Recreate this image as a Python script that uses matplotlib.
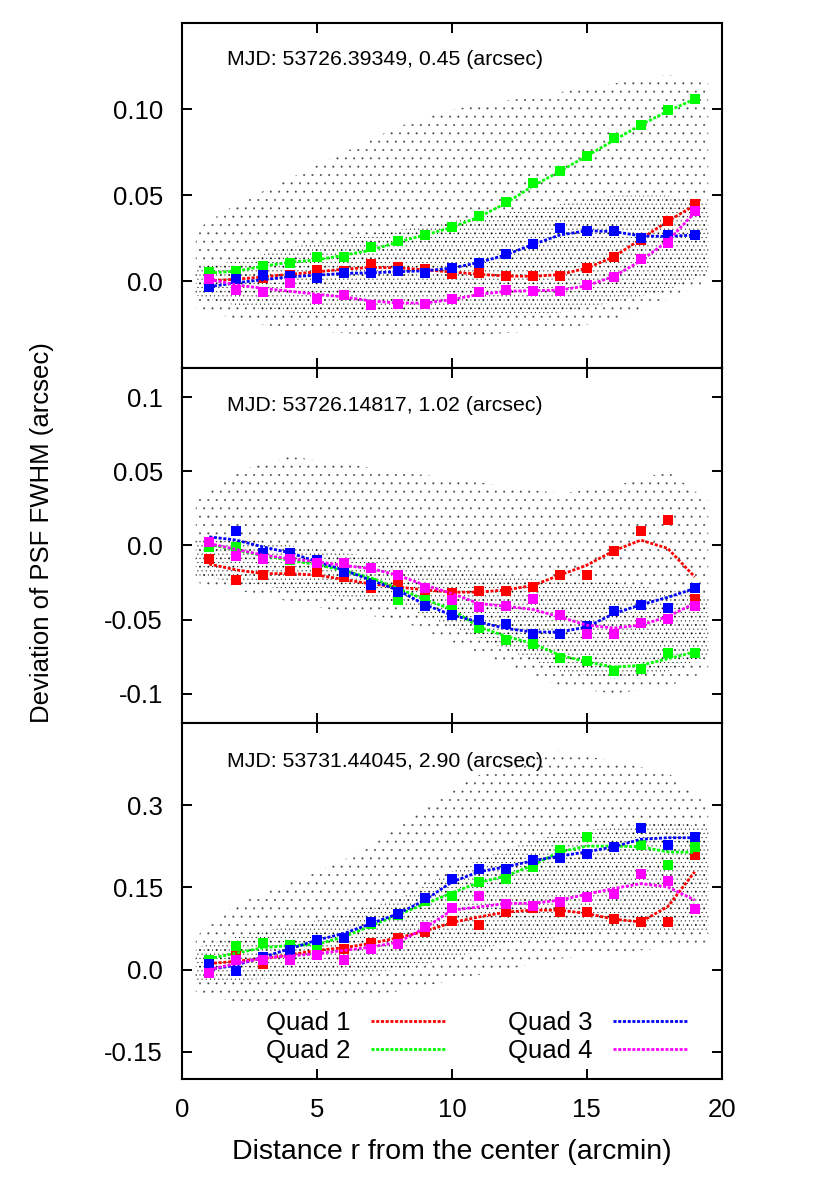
import numpy as np
import matplotlib
matplotlib.use("Agg")
import matplotlib.pyplot as plt

# fonts and a few global styles
plt.rcParams["font.family"] = ["Liberation Sans", "DejaVu Sans"]
plt.rcParams["hatch.linewidth"] = 0.2

# distance from the center (arcmin), one bin per arcmin
r = [1, 2, 3, 4, 5, 6, 7, 8, 9, 10, 11, 12, 13, 14, 15, 16, 17, 18, 19]

quad_names = ["Quad 1", "Quad 2", "Quad 3", "Quad 4"]
quad_colors = ["#ff0000", "#00ff00", "#0000ff", "#ff00ff"]

# ---- panel 1 : MJD 53726.39349 ----
p1_q1 = [0.0010, 0.0023, 0.0023, 0.0038, 0.0068, 0.0060, 0.0104, 0.0085, 0.0070, 0.0046,
         0.0049, 0.0031, 0.0031, 0.0031, 0.0081, 0.0140, 0.0240, 0.0351, 0.0448]
p1_q2 = [0.0056, 0.0062, 0.0091, 0.0110, 0.0143, 0.0140, 0.0199, 0.0236, 0.0269, 0.0318,
         0.0378, 0.0461, 0.0572, 0.0640, 0.0729, 0.0831, 0.0909, 0.0996, 0.1060]
p1_q3 = [-0.0031, 0.0015, 0.0037, 0.0030, 0.0021, 0.0052, 0.0050, 0.0062, 0.0052, 0.0081,
         0.0110, 0.0159, 0.0219, 0.0312, 0.0294, 0.0294, 0.0250, 0.0273, 0.0269]
p1_q4 = [0.0017, -0.0051, -0.0060, -0.0008, -0.0099, -0.0080, -0.0138, -0.0132, -0.0132, -0.0103,
         -0.0062, -0.0051, -0.0053, -0.0053, -0.0022, 0.0027, 0.0130, 0.0221, 0.0409]
# fitted curves read at each bin
p1_f1 = [0.0004, 0.0013, 0.0027, 0.0042, 0.0056, 0.0072, 0.0082, 0.0080, 0.0068, 0.0055,
         0.0042, 0.0032, 0.0030, 0.0040, 0.0078, 0.0143, 0.0246, 0.0350, 0.0443]
p1_f2 = [0.0050, 0.0060, 0.0089, 0.0112, 0.0126, 0.0153, 0.0182, 0.0230, 0.0270, 0.0315,
         0.0375, 0.0455, 0.0555, 0.0640, 0.0730, 0.0820, 0.0910, 0.0990, 0.1060]
p1_f3 = [-0.0030, -0.0008, 0.0011, 0.0027, 0.0037, 0.0047, 0.0050, 0.0057, 0.0062, 0.0078,
         0.0110, 0.0155, 0.0215, 0.0270, 0.0295, 0.0290, 0.0265, 0.0262, 0.0270]
p1_f4 = [0.0013, -0.0020, -0.0040, -0.0057, -0.0074, -0.0090, -0.0113, -0.0125, -0.0125, -0.0105,
         -0.0075, -0.0057, -0.0053, -0.0050, -0.0025, 0.0030, 0.0120, 0.0235, 0.0400]

# ---- panel 2 : MJD 53726.14817 ----
p2_q1 = [-0.0093, -0.0230, -0.0201, -0.0171, -0.0176, -0.0210, -0.0286, -0.0260, -0.0300, -0.0318,
         -0.0309, -0.0307, -0.0282, -0.0201, -0.0201, -0.0039, 0.0099, 0.0169, -0.0363]
p2_q2 = [-0.0009, -0.0011, -0.0088, -0.0099, -0.0110, -0.0180, -0.0250, -0.0365, -0.0370, -0.0426,
         -0.0554, -0.0640, -0.0665, -0.0760, -0.0782, -0.0847, -0.0833, -0.0726, -0.0724]
p2_q3 = [0.0025, 0.0099, -0.0054, -0.0054, -0.0099, -0.0182, -0.0264, -0.0313, -0.0410, -0.0471,
         -0.0500, -0.0532, -0.0599, -0.0599, -0.0545, -0.0442, -0.0399, -0.0419, -0.0290]
p2_q4 = [0.0025, -0.0072, -0.0090, -0.0090, -0.0117, -0.0120, -0.0149, -0.0201, -0.0290, -0.0365,
         -0.0415, -0.0410, -0.0360, -0.0471, -0.0599, -0.0599, -0.0523, -0.0493, -0.0410]
p2_f1 = [-0.0126, -0.0165, -0.0190, -0.0190, -0.0200, -0.0230, -0.0260, -0.0280, -0.0300, -0.0315,
         -0.0315, -0.0300, -0.0270, -0.0200, -0.0133, -0.0036, 0.0036, -0.0020, -0.0212]
p2_f2 = [0.0006, -0.0030, -0.0070, -0.0100, -0.0130, -0.0170, -0.0220, -0.0290, -0.0365, -0.0432,
         -0.0550, -0.0613, -0.0662, -0.0740, -0.0786, -0.0820, -0.0809, -0.0764, -0.0719]
p2_f3 = [0.0058, 0.0036, -0.0010, -0.0050, -0.0110, -0.0167, -0.0234, -0.0302, -0.0400, -0.0470,
         -0.0516, -0.0560, -0.0584, -0.0584, -0.0550, -0.0460, -0.0400, -0.0350, -0.0290]
p2_f4 = [0.0013, -0.0027, -0.0065, -0.0090, -0.0110, -0.0135, -0.0156, -0.0201, -0.0268, -0.0324,
         -0.0392, -0.0410, -0.0432, -0.0482, -0.0538, -0.0557, -0.0538, -0.0480, -0.0390]

# ---- panel 3 : MJD 53731.44045 ----
p3_q1 = [0.010, 0.025, 0.011, 0.030, 0.038, 0.037, 0.049, 0.058, 0.069, 0.088,
         0.081, 0.105, 0.113, 0.105, 0.105, 0.092, 0.086, 0.087, 0.209]
p3_q2 = [0.017, 0.043, 0.048, 0.044, 0.041, 0.057, 0.083, 0.100, 0.126, 0.134,
         0.160, 0.165, 0.188, 0.218, 0.242, 0.224, 0.227, 0.191, 0.223]
p3_q3 = [0.011, -0.003, 0.023, 0.035, 0.054, 0.058, 0.086, 0.102, 0.131, 0.165,
         0.183, 0.183, 0.200, 0.203, 0.212, 0.223, 0.259, 0.227, 0.243]
p3_q4 = [-0.006, 0.017, 0.018, 0.018, 0.027, 0.018, 0.037, 0.046, 0.078, 0.112,
         0.135, 0.119, 0.116, 0.124, 0.132, 0.138, 0.175, 0.162, 0.110]
p3_f1 = [0.011, 0.015, 0.020, 0.027, 0.035, 0.040, 0.048, 0.058, 0.070, 0.086,
         0.096, 0.105, 0.1085, 0.1085, 0.1024, 0.092, 0.087, 0.115, 0.1786]
p3_f2 = [0.020, 0.030, 0.040, 0.044, 0.046, 0.060, 0.080, 0.100, 0.120, 0.140,
         0.159, 0.1707, 0.1908, 0.215, 0.2255, 0.2255, 0.2243, 0.215, 0.214]
p3_f3 = [0.000, 0.008, 0.023, 0.038, 0.054, 0.066, 0.084, 0.102, 0.127, 0.160,
         0.1786, 0.1877, 0.1987, 0.2073, 0.215, 0.2243, 0.238, 0.2408, 0.2408]
p3_f4 = [0.000, 0.011, 0.021, 0.025, 0.029, 0.035, 0.041, 0.050, 0.076, 0.1085,
         0.1145, 0.1207, 0.121, 0.1268, 0.1377, 0.148, 0.157, 0.151, 0.127]

# extent of the cloud of individual star measurements (sparse halo and dense core)
cloud_x = [0.5, 2, 4, 6, 8, 10, 12, 14, 16, 18, 19.5]
p1_halo_lo = [-0.015, -0.022, -0.028, -0.030, -0.032, -0.032, -0.030, -0.028, -0.022, -0.010, 0.000]
p1_halo_hi = [0.030, 0.045, 0.060, 0.075, 0.090, 0.100, 0.105, 0.110, 0.115, 0.120, 0.115]
p1_core_lo = [-0.008, -0.014, -0.018, -0.020, -0.021, -0.021, -0.020, -0.018, -0.012, -0.005, 0.005]
p1_core_hi = [0.008, 0.012, 0.020, 0.025, 0.030, 0.035, 0.040, 0.045, 0.050, 0.050, 0.045]
p2_halo_lo = [-0.025, -0.030, -0.038, -0.045, -0.050, -0.065, -0.080, -0.095, -0.100, -0.095, -0.085]
p2_halo_hi = [0.030, 0.050, 0.060, 0.055, 0.050, 0.045, 0.040, 0.035, 0.040, 0.050, 0.030]
p2_core_lo = [-0.020, -0.025, -0.030, -0.035, -0.040, -0.055, -0.070, -0.085, -0.090, -0.085, -0.075]
p2_core_hi = [0.005, 0.005, 0.000, -0.005, -0.010, -0.015, -0.020, -0.025, -0.025, -0.030, -0.035]
p3_halo_lo = [-0.040, -0.060, -0.060, -0.050, -0.040, -0.020, 0.000, 0.020, 0.030, 0.040, 0.050]
p3_halo_hi = [0.060, 0.120, 0.160, 0.200, 0.260, 0.330, 0.380, 0.400, 0.380, 0.360, 0.300]
p3_core_lo = [-0.020, -0.020, -0.015, -0.010, 0.000, 0.020, 0.050, 0.060, 0.070, 0.070, 0.070]
p3_core_hi = [0.040, 0.060, 0.080, 0.100, 0.130, 0.180, 0.220, 0.250, 0.260, 0.270, 0.260]

panel_titles = ["MJD: 53726.39349, 0.45 (arcsec)",
                "MJD: 53726.14817, 1.02 (arcsec)",
                "MJD: 53731.44045, 2.90 (arcsec)"]
panel_ylim = [(-0.05, 0.15), (-0.12, 0.12), (-0.2, 0.45)]
panel_yticks = [[0.0, 0.05, 0.10],
                [-0.1, -0.05, 0.0, 0.05, 0.1],
                [-0.15, 0.0, 0.15, 0.3]]
panel_yticklabels = [["0.0", "0.05", "0.10"],
                     ["-0.1", "-0.05", "0.0", "0.05", "0.1"],
                     ["-0.15", "0.0", "0.15", "0.3"]]
xticks = [0, 5, 10, 15, 20]

panels = [
    ([p1_q1, p1_q2, p1_q3, p1_q4], [p1_f1, p1_f2, p1_f3, p1_f4],
     (p1_halo_lo, p1_halo_hi, p1_core_lo, p1_core_hi)),
    ([p2_q1, p2_q2, p2_q3, p2_q4], [p2_f1, p2_f2, p2_f3, p2_f4],
     (p2_halo_lo, p2_halo_hi, p2_core_lo, p2_core_hi)),
    ([p3_q1, p3_q2, p3_q3, p3_q4], [p3_f1, p3_f2, p3_f3, p3_f4],
     (p3_halo_lo, p3_halo_hi, p3_core_lo, p3_core_hi)),
]

fig = plt.figure(figsize=(8.3, 11.86), dpi=100)

# axes boxes in figure fractions (left, bottom, width, height)
boxes = [(0.2196, 0.6901, 0.6499, 0.2902),
         (0.2196, 0.3901, 0.6499, 0.3000),
         (0.2196, 0.0902, 0.6499, 0.3000)]

dash = (0, (1.1, 0.6))
axes = []
for i, (quads, fits, cloud) in enumerate(panels):
    ax = fig.add_axes(boxes[i])
    axes.append(ax)
    halo_lo, halo_hi, core_lo, core_hi = cloud

    # dotted cloud of single-star measurements
    ax.fill_between(cloud_x, halo_lo, halo_hi, facecolor="none", edgecolor="#444444",
                    linewidth=0, hatch="..", zorder=1)
    ax.fill_between(cloud_x, core_lo, core_hi, facecolor="none", edgecolor="black",
                    linewidth=0, hatch="....", zorder=1)

    # binned means and fitted curves for each quadrant
    for q in range(4):
        ax.plot(r, quads[q], linestyle="none", marker="s", markersize=7,
                markeredgewidth=0, color=quad_colors[q], zorder=3 + q)
        ax.plot(r, fits[q], linestyle=dash, linewidth=2.0, color=quad_colors[q],
                label=quad_names[q], zorder=3 + q)

    ax.set_xlim(0, 20)
    ax.set_ylim(panel_ylim[i])
    ax.set_xticks(xticks)
    ax.set_yticks(panel_yticks[i])
    ax.set_yticklabels(panel_yticklabels[i])
    ax.tick_params(direction="in", top=True, right=True, length=7, width=1.4,
                   labelsize=18.5, pad=14)
    if i < 2:
        ax.tick_params(labelbottom=False)
    for sp in ax.spines.values():
        sp.set_linewidth(1.5)

    ax.text(0.0823, 0.878, panel_titles[i], transform=ax.transAxes,
            fontsize=15.3, va="baseline", ha="left")

# legend in the bottom panel: label first, then the line sample
axes[2].legend(loc="center", bbox_to_anchor=(0.5458, 0.118), ncol=2, frameon=False,
               markerfirst=False, fontsize=18.5, handlelength=2.9, handletextpad=0.8,
               columnspacing=2.4, labelspacing=0.15, borderpad=0, borderaxespad=0)

axes[2].set_xlabel("Distance r from the center (arcmin)", fontsize=20.5, labelpad=12)
fig.text(0.051, 0.5506, "Deviation of PSF FWHM (arcsec)", rotation=90,
         fontsize=18.5, ha="center", va="center")

plt.savefig("out.png", dpi=100)
